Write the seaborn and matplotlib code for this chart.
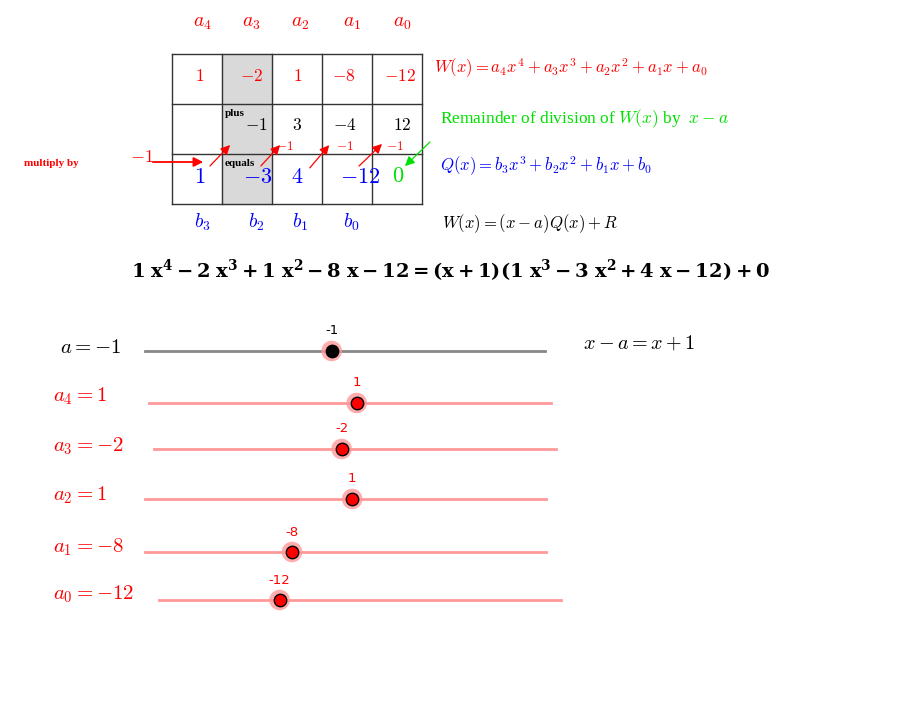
import matplotlib
matplotlib.use("Agg")
import matplotlib.pyplot as plt
import seaborn as sns
import pandas as pd

matplotlib.rcParams["mathtext.fontset"] = "cm"

# ---- data ----
a_value = -1
coef_names = ["a_4", "a_3", "a_2", "a_1", "a_0"]
coef_values = [1, -2, 1, -8, -12]
products = [-1, 3, -4, 12]
quot_names = ["b_3", "b_2", "b_1", "b_0"]
quot_values = [1, -3, 4, -12]
remainder = 0

W, H = 909, 710
fig = plt.figure(figsize=(W / 100, H / 100), dpi=100)
ax = fig.add_axes([0, 0, 1, 1])
ax.set_xlim(0, W)
ax.set_ylim(H, 0)
ax.axis("off")

RED, BLUE, GREEN = "#ff0000", "#0000ff", "#00e000"
def m(s):
    return "$" + s + "$"

# table
xs = [172, 222, 272, 322, 372, 422]
ys = [54, 104, 154, 204]
ax.add_patch(plt.Rectangle((222, 54), 50, 150, color="#d9d9d9", zorder=0))
for x in xs:
    ax.plot([x, x], [54, 204], color="#333333", lw=1)
for y in ys:
    ax.plot([172, 422], [y, y], color="#333333", lw=1)

hx = [202, 251, 300, 352, 402]
for i, (n, v) in enumerate(zip(coef_names, coef_values)):
    ax.text(hx[i], 22, m(n), color=RED, fontsize=14, ha="center", va="center")
    ax.text([200, 252, 298, 344, 400][i], 76, m(str(v)), color=RED, fontsize=12.5,
            ha="center", va="center")
for i, v in enumerate(products):
    ax.text([256, 297, 345, 402][i], 125, m(str(v)), color="black", fontsize=12.5,
            ha="center", va="center")
for i, (n, v) in enumerate(zip(quot_names, quot_values)):
    ax.text([200, 258, 297, 360][i], 177, m(str(v)), color=BLUE, fontsize=16,
            ha="center", va="center")
    ax.text([202, 256, 300, 351][i], 222, m(n), color=BLUE, fontsize=14,
            ha="center", va="center")
ax.text(398, 176, m(str(remainder)), color=GREEN, fontsize=16, ha="center", va="center")

ax.text(225, 114, "plus", fontsize=8, fontweight="bold", family="Liberation Serif", va="center")
ax.text(225, 164, "equals", fontsize=8, fontweight="bold", family="Liberation Serif", va="center")
ax.text(24, 163, "multiply by", fontsize=8, fontweight="bold", family="Liberation Serif",
        color=RED, va="center")
ax.text(142, 157, m(str(a_value)), color=RED, fontsize=13, ha="center", va="center")

arr = dict(arrowstyle="-|>", color=RED, lw=0.9, mutation_scale=14)
ax.annotate("", xy=(206, 162), xytext=(150, 162), arrowprops=dict(arr, lw=1.3))
for (x0, y0, x1, y1) in [(208, 168, 232, 143), (259, 168, 282, 143),
                         (308, 170, 331, 143), (357, 168, 384, 142)]:
    ax.annotate("", xy=(x1, y1), xytext=(x0, y0), arrowprops=arr)
for x in [285, 345, 395]:
    ax.text(x, 146, m(str(a_value)), color=RED, fontsize=9.5, ha="center", va="center")
ax.annotate("", xy=(403, 168), xytext=(432, 140),
            arrowprops=dict(arrowstyle="-|>", color=GREEN, lw=0.9, mutation_scale=14))

ax.text(434, 68, r"$W(x) = a_4x^4 + a_3x^3 + a_2x^2 + a_1x + a_0$", color=RED, fontsize=12, va="center")
ax.text(440, 119, r"Remainder of division of $W(x)$ by  $x - a$", color=GREEN, fontsize=12.5,
        va="center", family="Liberation Serif")
ax.text(440, 166, r"$Q(x) = b_3x^3 + b_2x^2 + b_1x + b_0$", color=BLUE, fontsize=12, va="center")
ax.text(442, 224, r"$W(x) = (x - a)Q(x) + R$", color="black", fontsize=12, va="center")

ax.text(450, 271, r"$\mathbf{1\ x^4 - 2\ x^3 + 1\ x^2 - 8\ x - 12 = (x + 1)(1\ x^3 - 3\ x^2 + 4\ x - 12) + 0}$",
        fontsize=14, ha="center", va="center", math_fontfamily="dejavuserif")

# sliders
rows = [
    ("a", a_value, 351, 145, 545, -15, 15, "#888888", "black", 60, 347),
    ("a_4", coef_values[0], 403, 149, 551, -30, 30, "#ff9999", RED, 53, 396),
    ("a_3", coef_values[1], 449, 154, 556, -30, 30, "#ff9999", RED, 53, 446),
    ("a_2", coef_values[2], 499, 145, 546, -30, 30, "#ff9999", RED, 53, 495),
    ("a_1", coef_values[3], 552, 145, 546, -30, 30, "#ff9999", RED, 53, 547),
    ("a_0", coef_values[4], 600, 159, 561, -30, 30, "#ff9999", RED, 53, 594),
]
pts = []
for name, v, y, x0, x1, lo, hi, lc, tc, lx, ly in rows:
    ax.plot([x0, x1], [y, y], color=lc, lw=2, zorder=1)
    px = x0 + (v - lo) / (hi - lo) * (x1 - x0)
    pts.append(dict(x=px, y=y, c="black" if name == "a" else RED))
    ax.text(px, y - 20, str(v), color=tc, fontsize=9.5, family="DejaVu Sans", ha="center", va="center")
    ax.text(lx, ly, m(name + " = " + str(v)), color=tc, fontsize=15, va="center")
df = pd.DataFrame(pts)
sns.scatterplot(data=df, x="x", y="y", ax=ax, s=220, color="#ff9999", alpha=0.8,
                edgecolor="none", zorder=3, legend=False)
for c in ["black", RED]:
    sub = df[df.c == c]
    sns.scatterplot(data=sub, x="x", y="y", ax=ax, s=80, color=c, edgecolor="black",
                    linewidth=1, zorder=4, legend=False)
ax.set_xlabel(""); ax.set_ylabel("")
ax.set_xlim(0, W); ax.set_ylim(H, 0); ax.axis("off")
ax.text(583, 343, r"$x - a = x + 1$", fontsize=14.5, va="center")

fig.savefig("out.png", dpi=100)
